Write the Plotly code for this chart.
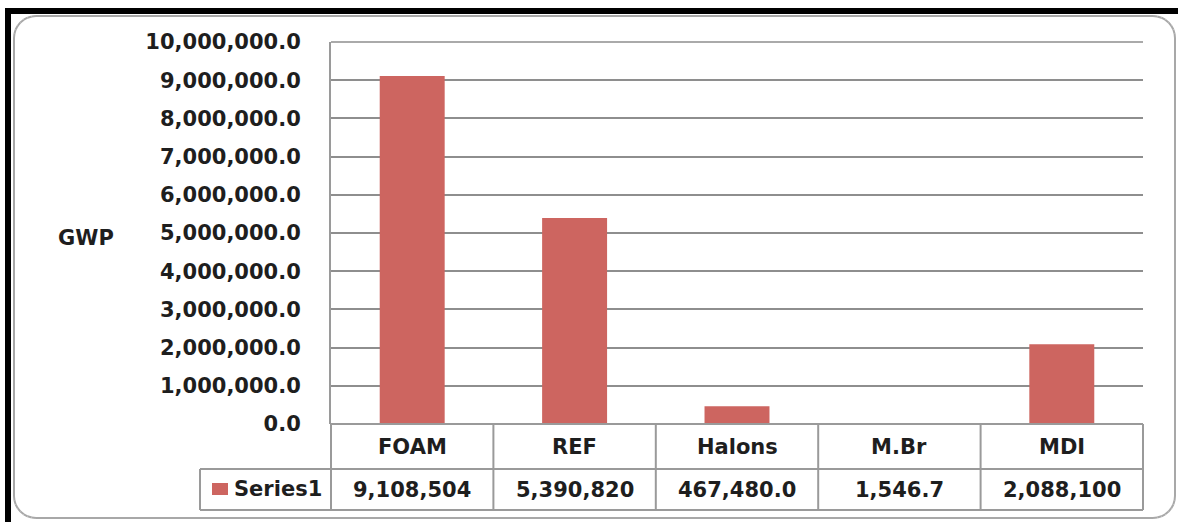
import math
import plotly.graph_objects as go

# GWP totals by sector
categories = ["FOAM", "REF", "Halons", "M.Br", "MDI"]
gwp_values = [9108504, 5390820, 467480.0, 1546.7, 2088100]
series_name = "Series1"
y_axis_title = "GWP"

W, H = 1178, 522
L, R, T, B = 331, 1143, 42, 424          # plot area in pixels
BAR_COLOR = "#CD6560"
LINE_GRAY = "#9a9a9a"
GRID_GRAY = "#8e8e8e"
FONT = "DejaVu Sans"
TEXT_COLOR = "#1e1e1e"
FONT_SIZE = 21


def px(x):
    return (x - L) / (R - L)


def py(y):
    return (B - y) / (B - T)


def fmt(v):
    return f"{v:,.0f}" if v >= 1_000_000 else f"{v:,.1f}"


fig = go.Figure(
    go.Bar(x=categories, y=gwp_values, marker=dict(color=BAR_COLOR, line=dict(width=0)),
           name=series_name, showlegend=False)
)

shapes = []


def line(x0, y0, x1, y1, color=LINE_GRAY, width=2):
    shapes.append(dict(type="line", xref="paper", yref="paper",
                       x0=px(x0), y0=py(y0), x1=px(x1), y1=py(y1),
                       line=dict(color=color, width=width), layer="above"))


def box(x0, y0, x1, y1, color):
    shapes.append(dict(type="rect", xref="paper", yref="paper",
                       x0=px(x0), x1=px(x1), y0=py(y1), y1=py(y0),
                       fillcolor=color, line=dict(width=0), layer="above"))


# outer frame: thick black edges
box(5, 8, W, 14, "black")
box(5, 8, 11, H, "black")

# rounded grey border: straight edges plus corner arcs built from short segments
BORDER = "#a8a8a8"
x0b, x1b, y0b, y1b, r = 14, 1175, 16, 518, 22
line(x0b + r, y0b, x1b - r, y0b, BORDER)
line(x0b + r, y1b, x1b - r, y1b, BORDER)
line(x0b, y0b + r, x0b, y1b - r, BORDER)
line(x1b, y0b + r, x1b, y1b - r, BORDER)
corners = [(x0b + r, y0b + r, 180), (x1b - r, y0b + r, 270),
           (x1b - r, y1b - r, 0), (x0b + r, y1b - r, 90)]
steps = 8
for cx, cy, start in corners:
    for k in range(steps):
        a0 = math.radians(start + 90 * k / steps)
        a1 = math.radians(start + 90 * (k + 1) / steps)
        line(cx + r * math.cos(a0), cy + r * math.sin(a0),
             cx + r * math.cos(a1), cy + r * math.sin(a1), BORDER)

# top gridline of the value axis
line(L, T, R, T, color=GRID_GRAY, width=1.5)

# data table beneath the plot
ROW1_B, ROW2_B, LEG_L = 469, 510, 200
n = len(categories)
col_w = (R - L) / n
line(L, B, R, B)
line(L, ROW1_B, R, ROW1_B)
line(LEG_L, ROW1_B, LEG_L, ROW2_B)
line(LEG_L, ROW1_B, L, ROW1_B)
line(LEG_L, ROW2_B, R, ROW2_B)
for i in range(n + 1):
    xx = L + i * col_w
    line(xx, B, xx, ROW2_B)

# legend key swatch
box(212, 483, 228, 495, BAR_COLOR)

annotations = []
tfont = dict(family=FONT, size=FONT_SIZE, color=TEXT_COLOR, weight="bold")
for i, (c, v) in enumerate(zip(categories, gwp_values)):
    cx = px(L + (i + 0.5) * col_w)
    annotations.append(dict(x=cx, y=py(447), xref="paper", yref="paper", text=c,
                            showarrow=False, font=tfont, xanchor="center", yanchor="middle"))
    annotations.append(dict(x=cx, y=py(489.5), xref="paper", yref="paper", text=fmt(v),
                            showarrow=False, font=tfont, xanchor="center", yanchor="middle"))
annotations.append(dict(x=px(232), y=py(489), xref="paper", yref="paper", text=series_name,
                        showarrow=False, font=tfont, xanchor="left", yanchor="middle"))
annotations.append(dict(x=px(86), y=py(238), xref="paper", yref="paper", text=y_axis_title,
                        showarrow=False, font=tfont, xanchor="center", yanchor="middle"))

fig.update_layout(
    width=W, height=H,
    margin=dict(l=L, r=W - R, t=T, b=H - B, pad=0),
    paper_bgcolor="white", plot_bgcolor="white",
    bargap=0.6,
    shapes=shapes, annotations=annotations,
    xaxis=dict(showticklabels=False, showgrid=False, zeroline=False, showline=False,
               ticks="", automargin=False),
    yaxis=dict(range=[0, 10_000_000], dtick=1_000_000, tickformat=",.1f",
               showgrid=True, gridcolor=GRID_GRAY, gridwidth=1.5,
               zeroline=False, showline=True, linecolor=LINE_GRAY, linewidth=2,
               ticks="", ticklabelstandoff=24, automargin=False,
               tickfont=dict(family=FONT, size=FONT_SIZE, color=TEXT_COLOR, weight="bold")),
)

fig.write_html("out.html")
